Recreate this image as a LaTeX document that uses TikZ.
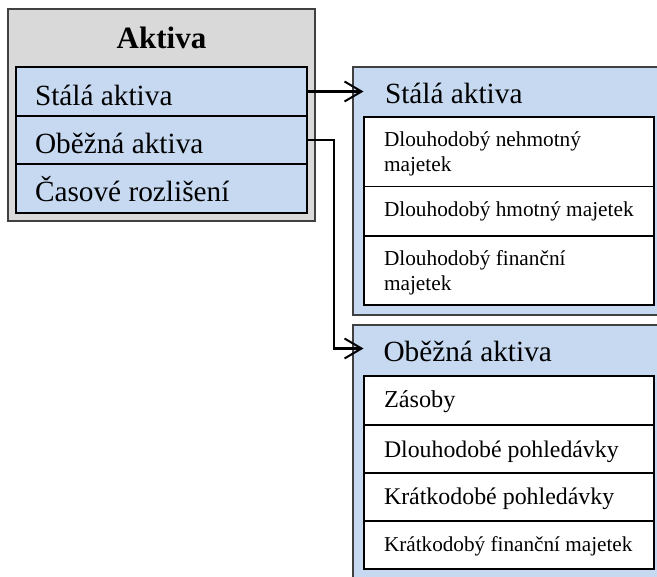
\documentclass[tikz,border=0pt]{standalone}
\usepackage{fontspec}
\setmainfont{Liberation Serif}
\usetikzlibrary{arrows.meta}
\definecolor{panelblue}{HTML}{C6D9F1}
\definecolor{panelgray}{HTML}{D9D9D9}
\definecolor{edgegray}{HTML}{404040}
\tikzset{
  frame/.style={draw=edgegray, line width=1.6pt, fill=panelgray, anchor=north west, inner sep=0pt, outer sep=0pt},
  panel/.style={draw=edgegray, line width=1.6pt, fill=panelblue, anchor=north west, inner sep=0pt, outer sep=0pt},
  cell/.style={draw=black, line width=1.1pt, fill=panelblue, anchor=north west, inner sep=0pt, outer sep=0pt, minimum width=291pt},
  item/.style={draw=black, line width=1.1pt, fill=white, anchor=north west, inner sep=0pt, outer sep=0pt, minimum width=290pt},
  txt/.style={anchor=base west, inner sep=0pt, outer sep=0pt},
  big/.style={font=\fontsize{29.3pt}{35pt}\selectfont},
  small/.style={font=\fontsize{21.3pt}{25pt}\selectfont},
  link/.style={line width=2.2pt, -{Straight Barb[length=17pt,width=20pt,line width=2pt]}}
}
\begin{document}
\begin{tikzpicture}[x=1pt, y=-1pt]
\useasboundingbox (0,0) rectangle (657,577);
\clip (0,0) rectangle (657,577);

% --- left block: Aktiva ---
\node[frame, minimum width=307pt, minimum height=212pt] (aktiva) at (8,9) {};
\node[anchor=base, inner sep=0pt, font=\fontsize{31pt}{36pt}\selectfont\bfseries] (aktivaT) at (161.5,48.3) {Aktiva};
\node[cell, minimum height=49pt] (la1) at (16,67) {};
\node[cell, minimum height=48pt] (la2) at (16,116) {};
\node[cell, minimum height=49pt] (la3) at (16,164) {};
\node[txt, big] (la1T) at (35,106) {Stálá aktiva};
\node[txt, big] (la2T) at (35,153.3) {Oběžná aktiva};
\node[txt, big] (la3T) at (35,201.7) {Časové rozlišení};

% --- right block: Stálá aktiva ---
\node[panel, minimum width=360pt, minimum height=248pt] (sa) at (353,67) {};
\node[txt, big] (saT) at (385,104) {Stálá aktiva};
\node[item, minimum height=69.7pt] (sa1) at (364,117) {};
\node[item, minimum height=49.3pt] (sa2) at (364,186.7) {};
\node[item, minimum height=69pt] (sa3) at (364,236) {};
\node[txt, small] (sa1T) at (384,146.7) {Dlouhodobý nehmotný};
\node[txt, small] (sa1U) at (384,171.7) {majetek};
\node[txt, small] (sa2T) at (384,216.7) {Dlouhodobý hmotný majetek};
\node[txt, small] (sa3T) at (384,265.7) {Dlouhodobý finanční};
\node[txt, small] (sa3U) at (384,290.7) {majetek};

% --- right block: Oběžná aktiva ---
\node[panel, minimum width=360pt, minimum height=300pt] (oa) at (353,325) {};
\node[txt, big] (oaT) at (383.5,362) {Oběžná aktiva};
\node[item, minimum height=49pt] (oa1) at (364,376) {};
\node[item, minimum height=48pt] (oa2) at (364,425) {};
\node[item, minimum height=48pt] (oa3) at (364,473) {};
\node[item, minimum height=48pt] (oa4) at (364,521) {};
\node[txt, font=\fontsize{24.3pt}{28pt}\selectfont] (oa1T) at (384,408) {Zásoby};
\node[txt, font=\fontsize{23.8pt}{28pt}\selectfont] (oa2T) at (384,458) {Dlouhodobé pohledávky};
\node[txt, font=\fontsize{23.9pt}{28pt}\selectfont] (oa3T) at (384,505) {Krátkodobé pohledávky};
\node[txt, font=\fontsize{21.2pt}{25pt}\selectfont] (oa4T) at (384,551.7) {Krátkodobý finanční majetek};

% --- connectors ---
\coordinate (tipA) at (363.5,91.5);
\coordinate (tipB) at (363.5,348.5);
\coordinate (bend) at (334,140);
\draw[link] (la1.east) -- (tipA);
\draw[link] (la2.east) -- (bend) |- (tipB);
\end{tikzpicture}
\end{document}
